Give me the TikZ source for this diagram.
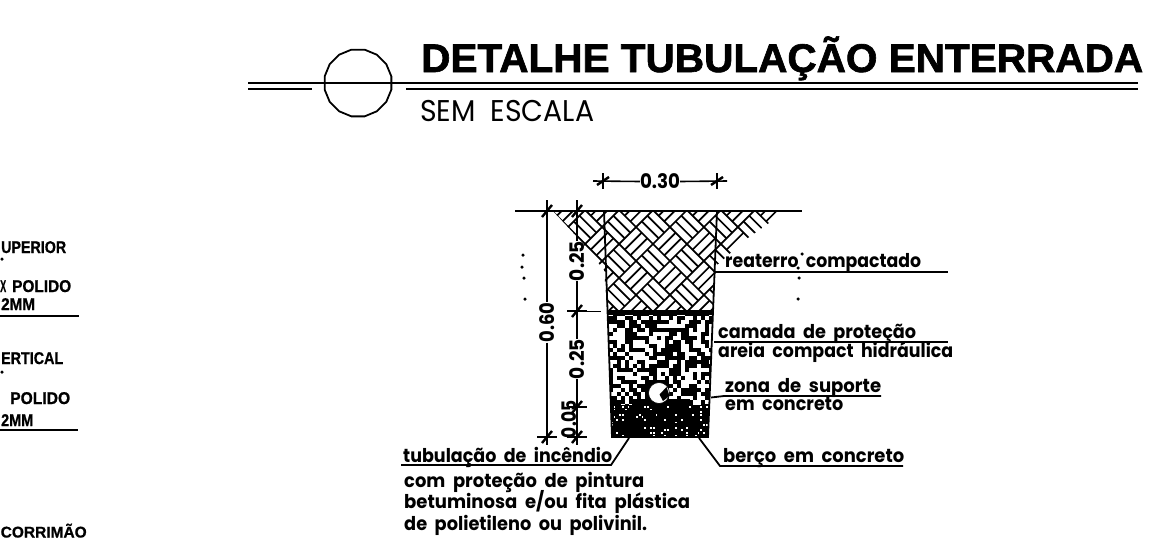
\documentclass[tikz,border=0pt]{standalone}
\usepackage{fontspec}
\usepackage{graphicx}
\usetikzlibrary{shapes.geometric}
\newfontfamily\cadfont{Poppins}
\newfontfamily\headfont[FakeBold=1.6]{Liberation Sans}
\newfontfamily\sidefont[FakeBold=0.8]{Liberation Sans}
\newcommand\fitw[2]{\resizebox{#1pt}{\height}{#2}}
\newcommand\dimtickv[2]{\draw[dimline] (#1-10,#2) -- (#1+10,#2); \draw[slashline] (#1-5,#2+6) -- (#1+5,#2-6); \draw[dimline] (#1,#2-10) -- (#1,#2+8);}
\newcommand\dimtickh[2]{\draw[dimline] (#1,#2-8) -- (#1,#2+8); \draw[slashline] (#1-6,#2+4) -- (#1+6,#2-4);}
\tikzset{
  x=1pt,y=-1pt,
  dimline/.style={line width=1.6pt,black},
  slashline/.style={line width=2.4pt,black},
  leader/.style={line width=1.8pt,black},
  wall/.style={line width=1.8pt,black},
  hatchline/.style={line width=1.7pt,black},
  note/.style={anchor=base west,inner sep=0pt,font=\cadfont\bfseries\fontsize{19}{19}\selectfont},
  sidenote/.style={anchor=base west,inner sep=0pt,font=\sidefont\bfseries\fontsize{17}{17}\selectfont},
  dimtext/.style={inner sep=0pt,font=\cadfont\bfseries\fontsize{20}{20}\selectfont},
  blob/.style={fill=black,inner sep=0pt,minimum size=3.5pt,circle}
}
\begin{document}
\begin{tikzpicture}
\useasboundingbox (0,0) rectangle (1175,539);
\clip (0,0) rectangle (1175,539);
% key coordinates
\coordinate (TL) at (604,211); \coordinate (TR) at (717,211);
\coordinate (ML) at (607.5,311); \coordinate (MR) at (713,311);
\coordinate (BL) at (612,437); \coordinate (BR) at (708,437);
% hatching
\begin{scope}
\clip (553,211) -- (786,211) -- (745,240) -- (716,266) -- (MR) -- (ML) -- (604,270) -- (580,240) -- cycle;
\begin{scope}[shift={(653,244)},rotate=45]
\foreach \i in {-7,...,6}{
 \foreach \j in {-7,...,6}{
  \pgfmathtruncatemacro\cellpar{mod(\i+\j+100,2)}
  \ifnum\cellpar=0
    \foreach \k in {0,8,16,24}{\draw[hatchline] (\i*24,\j*24+\k) -- (\i*24+24,\j*24+\k);}
  \else
    \foreach \k in {0,8,16,24}{\draw[hatchline] (\i*24+\k,\j*24) -- (\i*24+\k,\j*24+24);}
  \fi
 }}
\end{scope}
\end{scope}
% sand and concrete
\begin{scope}
\clip (ML) -- (MR) -- (BR) -- (BL) -- cycle;
\pgfmathsetseed{23}
\fill[black] (600,311) rectangle (720,315);
\foreach \i in {0,...,27}{
 \foreach \j in {0,...,23}{
  \pgfmathrandominteger\r{0}{99}
  \ifnum\r<57 \fill[black] (605+\i*4,312+\j*4) rectangle +(4.2,4.2); \fi
 }}
\fill[black] (605,405) rectangle (715,438);
\fill[black] (632,399) rectangle (690,406);
\foreach \i in {0,...,36}{
 \foreach \j in {0,...,11}{
  \pgfmathrandominteger\r{0}{99}
  \ifnum\r<14 \fill[white] (608+\i*2.8,406+\j*2.6) rectangle +(1.8,1.8); \fi
 }}
\end{scope}
% pipe
\node[circle,fill=white,draw=black,line width=0.6pt,minimum size=21pt,inner sep=0pt] (pipe) at (659,393) {};
\fill[black] (659.5,394.5) -- (666.5,387) -- (669.5,396) -- (663,401) -- cycle;
% walls and ground
\coordinate (G1) at (515,211); \coordinate (G2) at (802,211);
\draw[line width=1.9pt] (G1) -- (G2);
\draw[wall] (TL) -- (BL) -- (BR) -- (TR);
\draw[line width=2pt] (ML) -- (MR);
% title
\coordinate (L1a) at (248,82.7); \coordinate (L1b) at (1138,82.7);
\coordinate (L2a) at (248,89.3); \coordinate (L2b) at (312,89.3);
\coordinate (L2c) at (406,89.3); \coordinate (L2d) at (1138,89.3);
\draw[line width=1.9pt] (L1a) -- (L1b);
\draw[line width=1.9pt] (L2a) -- (L2b);
\draw[line width=1.9pt] (L2c) -- (L2d);
\node[draw=black,line width=1.8pt,regular polygon,regular polygon sides=16,minimum size=68pt,inner sep=0pt] (bubble) at (358,83) {};
\node[anchor=base west,inner sep=0pt,font=\headfont\bfseries\fontsize{40}{40}\selectfont] (title) at (421,72) {\fitw{722}{DETALHE TUBULAÇÃO ENTERRADA}};
\node[anchor=base west,inner sep=0pt,font=\cadfont\fontsize{30}{30}\selectfont] (scale) at (420,121) {\fitw{174}{SEM~~ESCALA}};
% dimensions
\coordinate (D30a) at (593,181); \coordinate (D30b) at (727,181);
\node[dimtext] (d30) at (660,181.5) {\fitw{40}{0.30}};
\draw[dimline] (D30a) -- (d30.west); \draw[dimline] (d30.east) -- (D30b);
\dimtickh{603}{181}\dimtickh{717}{181}
\node[dimtext,rotate=90] (d60) at (547,322.5) {\fitw{40}{0.60}};
\coordinate (D60t) at (547,200); \coordinate (D60b) at (547,445);
\draw[dimline] (D60t) -- (d60.east); \draw[dimline] (d60.west) -- (D60b);
\dimtickv{547}{211}\dimtickv{547}{437}
\node[dimtext,rotate=90] (d25a) at (577,261) {\fitw{40}{0.25}};
\node[dimtext,rotate=90] (d25b) at (577,359) {\fitw{40}{0.25}};
\node[dimtext,rotate=90] (d05) at (569,419) {\fitw{38}{0.05}};
\coordinate (D25t) at (577,200); \coordinate (D25b) at (577,445);
\draw[dimline] (D25t) -- (d25a.east); \draw[dimline] (d25a.west) -- (d25b.east); \draw[dimline] (d25b.west) -- (D25b);
\dimtickv{577}{211}\dimtickv{577}{407}\dimtickv{577}{437}
\dimtickv{577}{311}
\coordinate (E1) at (567,311.5); \coordinate (E2) at (601,311.5);
\draw[dimline] (E1) -- (E2);
% labels on the right
\node[note] (n1) at (725,267) {\fitw{196}{reaterro~~compactado}};
\coordinate (u1a) at (715,272); \coordinate (u1b) at (948,272); \draw[leader] (u1a) -- (u1b);
\node[note] (n2) at (718,338) {\fitw{198}{camada~~de~~proteção}};
\coordinate (u2a) at (714,342); \coordinate (u2b) at (948,342); \draw[leader] (u2a) -- (u2b);
\node[note] (n3) at (718,357) {\fitw{235}{areia~~compact~~hidráulica}};
\node[note] (n4) at (725,392) {\fitw{156}{zona~~de~~suporte}};
\coordinate (u4a) at (711,397.5); \coordinate (u4c) at (724,396); \coordinate (u4b) at (881,396); \draw[leader] (u4a) -- (u4c) -- (u4b);
\node[note] (n5) at (725,410) {\fitw{118}{em~~concreto}};
\node[note] (n6) at (723,462) {\fitw{181}{berço~~em~~concreto}};
\coordinate (u6a) at (699,438); \coordinate (u6c) at (720,466); \coordinate (u6b) at (903,466); \draw[leader] (u6a) -- (u6c) -- (u6b);
% labels at the bottom
\node[note] (n7) at (403,462) {\fitw{209}{tubulação~~de~~incêndio}};
\coordinate (u7a) at (629,438); \coordinate (u7c) at (611,465); \coordinate (u7b) at (401,465); \draw[leader] (u7a) -- (u7c) -- (u7b);
\node[note] (n8) at (404,487) {\fitw{240}{com~~proteção~~de~~pintura}};
\node[note] (n9) at (404,508) {\fitw{286}{betuminosa~~e/ou~~fita~~plástica}};
\node[note] (n10) at (404,530) {\fitw{243}{de~~polietileno~~ou~~polivinil.}};
% labels at the left, as far as the picture prints them
\node[sidenote] (s1) at (1,253) {\fitw{65}{UPERIOR}};
\node[sidenote] (s2a) at (0,292) {\fitw{6}{X}};
\node[sidenote] (s2) at (12,292) {\fitw{59}{POLIDO}};
\node[sidenote] (s3) at (1,310) {\fitw{34}{2MM}};
\coordinate (v1a) at (0,316); \coordinate (v1b) at (79,316); \draw[leader] (v1a) -- (v1b);
\node[sidenote] (s4) at (1,364) {\fitw{62}{ERTICAL}};
\node[sidenote] (s5) at (10,404) {\fitw{60}{POLIDO}};
\node[sidenote] (s6) at (1,426) {\fitw{32}{2MM}};
\coordinate (v2a) at (0,430); \coordinate (v2b) at (78,430); \draw[leader] (v2a) -- (v2b);
\node[sidenote,font=\sidefont\bfseries\fontsize{15.5}{15.5}\selectfont] (s7) at (0.5,537.5) {\fitw{86}{CORRIMÃO}};
% specks
\foreach \p/\q in {523/255,522/267,524/278,525/299,802/254,798/268,799/278,798/299,2/259,2/372}{
  \node[blob] at (\p,\q) {};
}
\end{tikzpicture}
\end{document}
